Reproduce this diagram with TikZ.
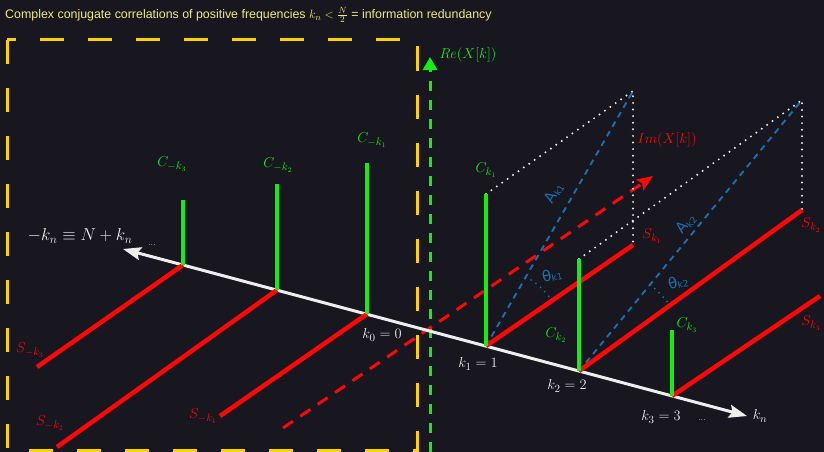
\documentclass[tikz,border=0pt]{standalone}
\usepackage{fontspec}
\newfontfamily\titlefont{Liberation Sans}
\newfontfamily\dejavu{DejaVu Sans}
\usetikzlibrary{arrows.meta}
\definecolor{bg}{RGB}{24,22,31}
\definecolor{cgreen}{RGB}{20,238,20}
\definecolor{cred}{RGB}{252,8,8}
\definecolor{cblue}{RGB}{24,112,178}
\definecolor{cgold}{RGB}{255,210,0}
\definecolor{ctitle}{RGB}{236,236,128}
\definecolor{cwhite}{RGB}{238,238,238}
\newcommand{\bsub}[2][-2pt]{\raisebox{#1}{\fontsize{9}{10}\selectfont #2}}
\tikzset{
  sline/.style={cred,line width=4.5pt},
  cbar/.style={cgreen,line width=4pt},
  ampline/.style={cblue,line width=1.9pt,dash pattern=on 6pt off 5pt},
  projline/.style={cwhite,line width=2.2pt,line cap=round,dash pattern=on 0pt off 6.6pt},
  anglearc/.style={cblue,line width=2pt,line cap=round,dash pattern=on 0pt off 6pt},
  glab/.style={text=cgreen,font=\fontsize{15}{17}\selectfont,inner sep=0pt},
  rlab/.style={text=cred,font=\fontsize{15}{17}\selectfont,inner sep=0pt},
  wlab/.style={text=cwhite,font=\fontsize{15}{17}\selectfont,inner sep=0pt},
  blab/.style={text=cblue,font=\dejavu\fontsize{15}{17}\selectfont,inner sep=0pt},
  dots/.style={text=cwhite,font=\fontsize{9}{10}\selectfont,inner sep=0pt},
}
\begin{document}
\begin{tikzpicture}[x=1pt,y=-1pt]
\fill[bg] (0,0) rectangle (824,452);
\useasboundingbox (0,0) rectangle (824,452);

% title
\node[anchor=west,text=ctitle,font=\titlefont\fontsize{12.4}{14}\selectfont,inner sep=0pt] (title) at (5,15)
  {Complex conjugate correlations of positive frequencies $k_n < \frac{N}{2}$ = information redundancy};

% yellow dashed frame
\draw[cgold,line width=3pt,dash pattern=on 24pt off 24pt] (7,40) rectangle (417.5,450);

% coordinates
\coordinate (L) at (123,249);
\coordinate (R) at (747,416);
\coordinate (m3) at (183,265);
\coordinate (m2) at (277,290);
\coordinate (m1) at (367,314);
\coordinate (p1) at (486,346);
\coordinate (p2) at (579,371);
\coordinate (p3) at (672,396);
\coordinate (reb) at (430,452);
\coordinate (ret) at (430,57);
\coordinate (imb) at (283,428);
\coordinate (imt) at (653,176);
\coordinate (q1) at (633,91);
\coordinate (q2) at (802,100);
\coordinate (sm3) at (37,367);
\coordinate (sm2) at (57,447);
\coordinate (sm1) at (220,416);
\coordinate (sp1) at (633,245);
\coordinate (sp2) at (802,210);
\coordinate (sp3) at (820,296);
\coordinate (cm3) at (183,200);
\coordinate (cm2) at (277,184);
\coordinate (cm1) at (367,163);
\coordinate (cp1) at (486,194);
\coordinate (cp2) at (579,259);
\coordinate (cp3) at (672,330);

% Re axis
\draw[cgreen,line width=3pt,dash pattern=on 10pt off 9pt,-{Triangle[length=13pt,width=14pt]}] (reb) -- (ret);
% Im axis
\draw[cred,line width=3pt,dash pattern=on 12pt off 9pt,-{Stealth[length=16pt,width=13pt,inset=3pt]}] (imb) -- (imt);

% frequency axis
\draw[cwhite,line width=3pt,-{Stealth[length=18pt,width=13pt,inset=3pt]}] (m3) -- (L);
\draw[cwhite,line width=3pt,-{Stealth[length=18pt,width=13pt,inset=3pt]}] (m3) -- (R);

% projections and amplitudes
\draw[projline] (cp1) -- (q1) -- (sp1);
\draw[projline] (cp2) -- (q2) -- (sp2);
\draw[ampline] (p1) -- (q1);
\draw[ampline] (p2) -- (q2);
\draw[anglearc] (p1) ++(-60:80) arc[start angle=-60,end angle=-34.5,radius=80];
\draw[anglearc] (p2) ++(-50.5:112) arc[start angle=-50.5,end angle=-35.8,radius=112];

% sine components
\draw[sline] (m3) -- (sm3);
\draw[sline] (m2) -- (sm2);
\draw[sline] (m1) -- (sm1);
\draw[sline] (p1) -- (sp1);
\draw[sline] (p2) -- (sp2);
\draw[sline] (p3) -- (sp3);

% cosine components
\draw[cbar] (m3) -- (cm3);
\draw[cbar] (m2) -- (cm2);
\draw[cbar] (m1) -- (cm1);
\draw[cbar] (p1) -- (cp1);
\draw[cbar] (p2) -- (cp2);
\draw[cbar] (p3) -- (cp3);

% labels
\node[glab] (lre) at (468,55) {$Re(X[k])$};
\node[rlab] (lim) at (667,140) {$Im(X[k])$};
\node[glab] (lcm3) at (172,164) {$C_{-k_3}$};
\node[glab] (lcm2) at (278,165) {$C_{-k_2}$};
\node[glab] (lcm1) at (372,140) {$C_{-k_1}$};
\node[glab] (lcp1) at (486,170) {$C_{k_1}$};
\node[glab] (lcp2) at (556,335) {$C_{k_2}$};
\node[glab] (lcp3) at (687,325) {$C_{k_3}$};
\node[rlab] (lsm3) at (30,350) {$S_{-k_3}$};
\node[rlab] (lsm2) at (50,423) {$S_{-k_2}$};
\node[rlab] (lsm1) at (203,416) {$S_{-k_1}$};
\node[rlab] (lsp1) at (652,236) {$S_{k_1}$};
\node[rlab] (lsp2) at (811,225) {$S_{k_2}$};
\node[rlab] (lsp3) at (811,323) {$S_{k_3}$};
\node[wlab] (lk0) at (382,335) {$k_0=0$};
\node[wlab] (lk1) at (478,364) {$k_1=1$};
\node[wlab] (lk2) at (567,386) {$k_2=2$};
\node[wlab] (lk3) at (661,417) {$k_3=3$};
\node[dots] (ldr) at (702,420) {...};
\node[wlab] (lkn) at (760,416) {$k_n$};
\node[text=cwhite,font=\fontsize{17}{19}\selectfont,inner sep=0pt] (lmkn) at (80,236) {$-k_n\equiv N+k_n$};
\node[dots] (ldl) at (152,245) {...};
\node[blab,rotate=60] (la1) at (554,193) {A\bsub{k1}};
\node[blab,rotate=50] (la2) at (686,224) {A\bsub{k2}};
\node[blab,rotate=12] (lt1) at (552,275) {θ\bsub[-1pt]{k1}};
\node[blab,rotate=12] (lt2) at (678,282) {θ\bsub[-1pt]{k2}};
\end{tikzpicture}
\end{document}
